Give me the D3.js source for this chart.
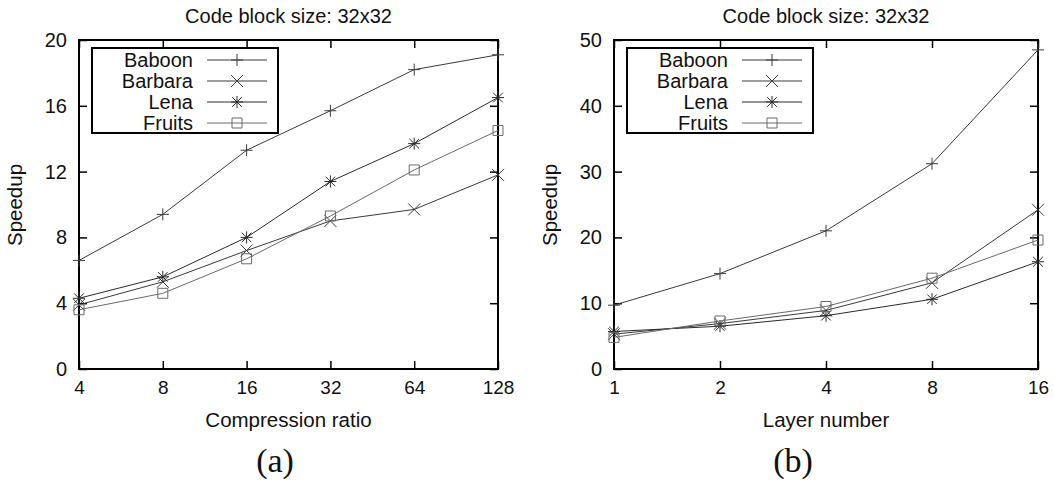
<!DOCTYPE html>
<html>
<head>
<meta charset="utf-8">
<script src="https://cdn.jsdelivr.net/npm/d3@7"></script>
<style>
	body { margin: 0; background: #fff; }
	svg { display: block; }
	text { font-family: "Liberation Sans", Arial, sans-serif; fill: #111; }
	.caption { font-family: "Liberation Serif", "Times New Roman", serif; }
</style>
</head>
<body>
<div class="viz"></div>
<script>
// values
let seriesNames = ["Baboon", "Barbara", "Lena", "Fruits"];
let seriesMarks = ["plus", "cross", "star", "square"];

let ratios = [4, 8, 16, 32, 64, 128];
let baboonA = [6.6, 9.4, 13.3, 15.7, 18.2, 19.1];
let barbaraA = [3.9, 5.3, 7.2, 9.0, 9.7, 11.8];
let lenaA = [4.3, 5.6, 8.0, 11.4, 13.7, 16.5];
let fruitsA = [3.6, 4.6, 6.7, 9.3, 12.1, 14.5];
let yTicksA = [0, 4, 8, 12, 16, 20];

let layers = [1, 2, 4, 8, 16];
let baboonB = [9.7, 14.5, 21.0, 31.2, 48.5];
let barbaraB = [5.3, 6.9, 8.9, 13.1, 24.2];
let lenaB = [5.7, 6.5, 8.1, 10.6, 16.3];
let fruitsB = [4.8, 7.3, 9.5, 13.8, 19.6];
let yTicksB = [0, 10, 20, 30, 40, 50];

let width = 1054, height = 483;

let svg = d3.select('.viz').append('svg')
	.attr('width', width)
	.attr('height', height);

let lineColors = ["#3a3a3a", "#3a3a3a", "#2a2a2a", "#6a6a6a"];

function markPath(type, s) {
	let h = s / 2;
	if (type == "plus") return "M" + (-h) + ",0H" + h + "M0," + (-h) + "V" + h;
	if (type == "cross") return "M" + (-h) + "," + (-h) + "L" + h + "," + h + "M" + (-h) + "," + h + "L" + h + "," + (-h);
	if (type == "star") return markPath("plus", s) + markPath("cross", s * 0.8);
	return "M" + (-h) + "," + (-h) + "H" + h + "V" + h + "H" + (-h) + "Z";
}

function drawPanel(opt) {
	let x = d3.scaleLog().base(2)
		.domain([opt.xs[0], opt.xs[opt.xs.length - 1]])
		.range([opt.left, opt.right]);
	let y = d3.scaleLinear()
		.domain([0, opt.yTicks[opt.yTicks.length - 1]])
		.range([369, 40]);

	let g = svg.append('g');

	// tick marks on all four sides, pointing inward
	g.append('g')
		.attr('transform', 'translate(0,369)')
		.call(d3.axisBottom(x).tickValues(opt.xs).tickFormat(d3.format('d')).tickSize(-8).tickPadding(12))
		.call(styleAxis, '19px');
	g.append('g')
		.attr('transform', 'translate(0,40)')
		.call(d3.axisTop(x).tickValues(opt.xs).tickFormat('').tickSize(-8))
		.call(styleAxis, '19px');
	g.append('g')
		.attr('transform', 'translate(' + opt.left + ',0)')
		.call(d3.axisLeft(y).tickValues(opt.yTicks).tickSize(-8).tickPadding(12))
		.call(styleAxis, '20px');
	g.append('g')
		.attr('transform', 'translate(' + opt.right + ',0)')
		.call(d3.axisRight(y).tickValues(opt.yTicks).tickFormat('').tickSize(-8))
		.call(styleAxis, '20px');

	g.append('rect')
		.attr('x', opt.left)
		.attr('y', 40)
		.attr('width', opt.right - opt.left)
		.attr('height', 329)
		.attr('fill', 'none')
		.attr('stroke', '#000')
		.attr('stroke-width', 2);

	let line = d3.line()
		.x(function(d) { return x(d[0]); })
		.y(function(d) { return y(d[1]); });

	opt.series.forEach(function(vals, i) {
		let pts = opt.xs.map(function(v, j) { return [v, vals[j]]; });
		g.append('path')
			.datum(pts)
			.attr('d', line)
			.attr('fill', 'none')
			.attr('stroke', lineColors[i])
			.attr('stroke-width', 1);
		g.selectAll(null)
			.data(pts)
			.enter().append('path')
			.attr('transform', function(d) { return 'translate(' + x(d[0]) + ',' + y(d[1]) + ')'; })
			.attr('d', markPath(seriesMarks[i], seriesMarks[i] == "square" ? 10 : 12))
			.attr('fill', 'none')
			.attr('stroke', lineColors[i])
			.attr('stroke-width', 1);
	});

	// legend
	let lg = g.append('g')
		.attr('transform', 'translate(' + (opt.left + 13) + ',48)');
	lg.append('rect')
		.attr('width', 186)
		.attr('height', 85)
		.attr('fill', '#fff')
		.attr('stroke', '#000')
		.attr('stroke-width', 2);
	seriesNames.forEach(function(name, i) {
		let ry = 12 + i * 21;
		lg.append('text')
			.attr('x', 101)
			.attr('y', ry)
			.attr('dy', '0.35em')
			.attr('text-anchor', 'end')
			.style('font-size', '20px')
			.text(name);
		lg.append('line')
			.attr('x1', 115).attr('x2', 175)
			.attr('y1', ry).attr('y2', ry)
			.attr('stroke', lineColors[i]);
		lg.append('path')
			.attr('transform', 'translate(145,' + ry + ')')
			.attr('d', markPath(seriesMarks[i], seriesMarks[i] == "square" ? 10 : 12))
			.attr('fill', 'none')
			.attr('stroke', lineColors[i]);
	});

	let cx = (opt.left + opt.right) / 2;
	g.append('text')
		.attr('x', cx).attr('y', 23)
		.attr('text-anchor', 'middle')
		.style('font-size', '20px')
		.text(opt.title);
	g.append('text')
		.attr('x', cx).attr('y', 427)
		.attr('text-anchor', 'middle')
		.style('font-size', '20.5px')
		.text(opt.xLabel);
	g.append('text')
		.attr('transform', 'translate(' + (opt.left - 57) + ',205)rotate(-90)')
		.attr('text-anchor', 'middle')
		.style('font-size', '20.5px')
		.text('Speedup');
	g.append('text')
		.attr('class', 'caption')
		.attr('x', opt.capX).attr('y', 472)
		.attr('text-anchor', 'middle')
		.style('font-size', '34px')
		.text(opt.caption);
}

function styleAxis(sel, fontSize) {
	sel.select('.domain').remove();
	sel.selectAll('.tick line').attr('stroke', '#000').attr('stroke-width', 1.5);
	sel.selectAll('.tick text').style('font-size', fontSize).attr('fill', '#111');
}

drawPanel({
	xs: ratios,
	series: [baboonA, barbaraA, lenaA, fruitsA],
	yTicks: yTicksA,
	left: 79, right: 498,
	title: 'Code block size: 32x32',
	xLabel: 'Compression ratio',
	caption: '(a)', capX: 275
});

drawPanel({
	xs: layers,
	series: [baboonB, barbaraB, lenaB, fruitsB],
	yTicks: yTicksB,
	left: 614, right: 1038,
	title: 'Code block size: 32x32',
	xLabel: 'Layer number',
	caption: '(b)', capX: 793
});
</script>
</body>
</html>
